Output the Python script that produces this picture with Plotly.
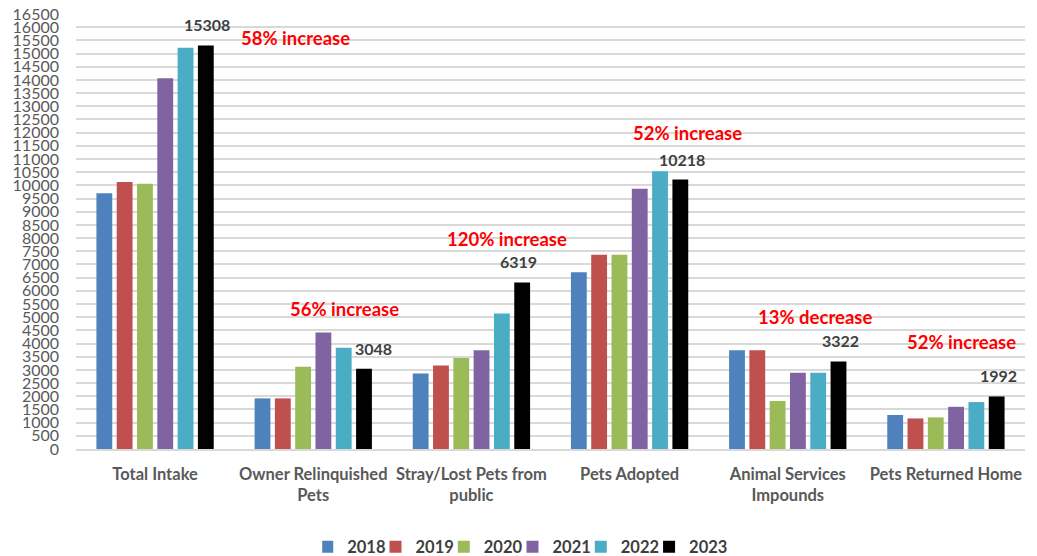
import plotly.graph_objects as go

categories = ["Total Intake", "Owner Relinquished<br>Pets", "Stray/Lost Pets from<br>public",
              "Pets Adopted", "Animal Services<br>Impounds", "Pets Returned Home"]
years = ["2018", "2019", "2020", "2021", "2022", "2023"]

v2018 = [9700, 1920, 2860, 6700, 3750, 1290]
v2019 = [10130, 1920, 3170, 7370, 3750, 1160]
v2020 = [10060, 3120, 3450, 7370, 1820, 1200]
v2021 = [14060, 4420, 3750, 9870, 2890, 1600]
v2022 = [15220, 3840, 5140, 10540, 2890, 1780]
v2023 = [15308, 3048, 6319, 10218, 3322, 1992]

change_labels = ["58% increase", "56% increase", "120% increase",
                 "52% increase", "13% decrease", "52% increase"]
change_y = [15590, 5325, 7970, 11990, 5015, 4067]

series = [v2018, v2019, v2020, v2021, v2022, v2023]
colors = ["#4F81BD", "#C0504D", "#9BBB59", "#8064A2", "#4BACC6", "#000000"]

fig = go.Figure()
for name, vals, col in zip(years, series, colors):
    fig.add_trace(go.Bar(x=categories, y=vals, name=name, marker_color=col,
                         marker_line_width=0))

# style offsets (pixels) for annotations
change_xshift = [140, 31, 36, 58, 27, 16]
value_xshift = [52, 60, 47, 52, 53, 53]

for cat, val, xs in zip(categories, v2023, value_xshift):
    fig.add_annotation(x=cat, y=val, text=f"<b>{val}</b>", showarrow=False,
                       xshift=xs, yshift=9, yanchor="bottom",
                       font=dict(family="Lato", size=16, color="#404040"))

for cat, txt, yv, xs in zip(categories, change_labels, change_y, change_xshift):
    fig.add_annotation(x=cat, y=yv, text=f"<b>{txt}</b>", showarrow=False,
                       xshift=xs, yanchor="middle",
                       font=dict(family="Lato", size=18.5, color="#FF0000"))

fig.update_layout(
    width=1037, height=556,
    margin=dict(l=76, r=12, t=14, b=107, autoexpand=False),
    paper_bgcolor="white", plot_bgcolor="white",
    barmode="group", bargap=0.23, bargroupgap=0.22,
    font=dict(family="Lato", color="#595959"),
    legend=dict(orientation="h", x=0.476, xanchor="center", y=-0.185, yanchor="top",
                font=dict(family="Lato", size=16.5, color="#404040", weight="bold"),
                itemwidth=30, indentation=-15,
                traceorder="normal"),
    showlegend=True,
)
fig.update_yaxes(range=[0, 16500], dtick=500, tick0=0, tickformat="d", showgrid=True,
                 gridcolor="#D9D9D9", gridwidth=1.5, zeroline=False, showline=False,
                 ticklabelstandoff=16, automargin=False,
                 tickfont=dict(family="Lato", size=16, color="#595959"))
fig.update_xaxes(showline=True, linecolor="#D9D9D9", linewidth=1.5,
                 ticks="", ticklabelstandoff=9, automargin=False,
                 tickfont=dict(family="Lato", size=16.5, color="#595959", weight="bold"))

fig.write_html("out.html", config={"displayModeBar": False},
               post_script="document.body.style.margin='0';document.body.style.overflow='hidden';")
